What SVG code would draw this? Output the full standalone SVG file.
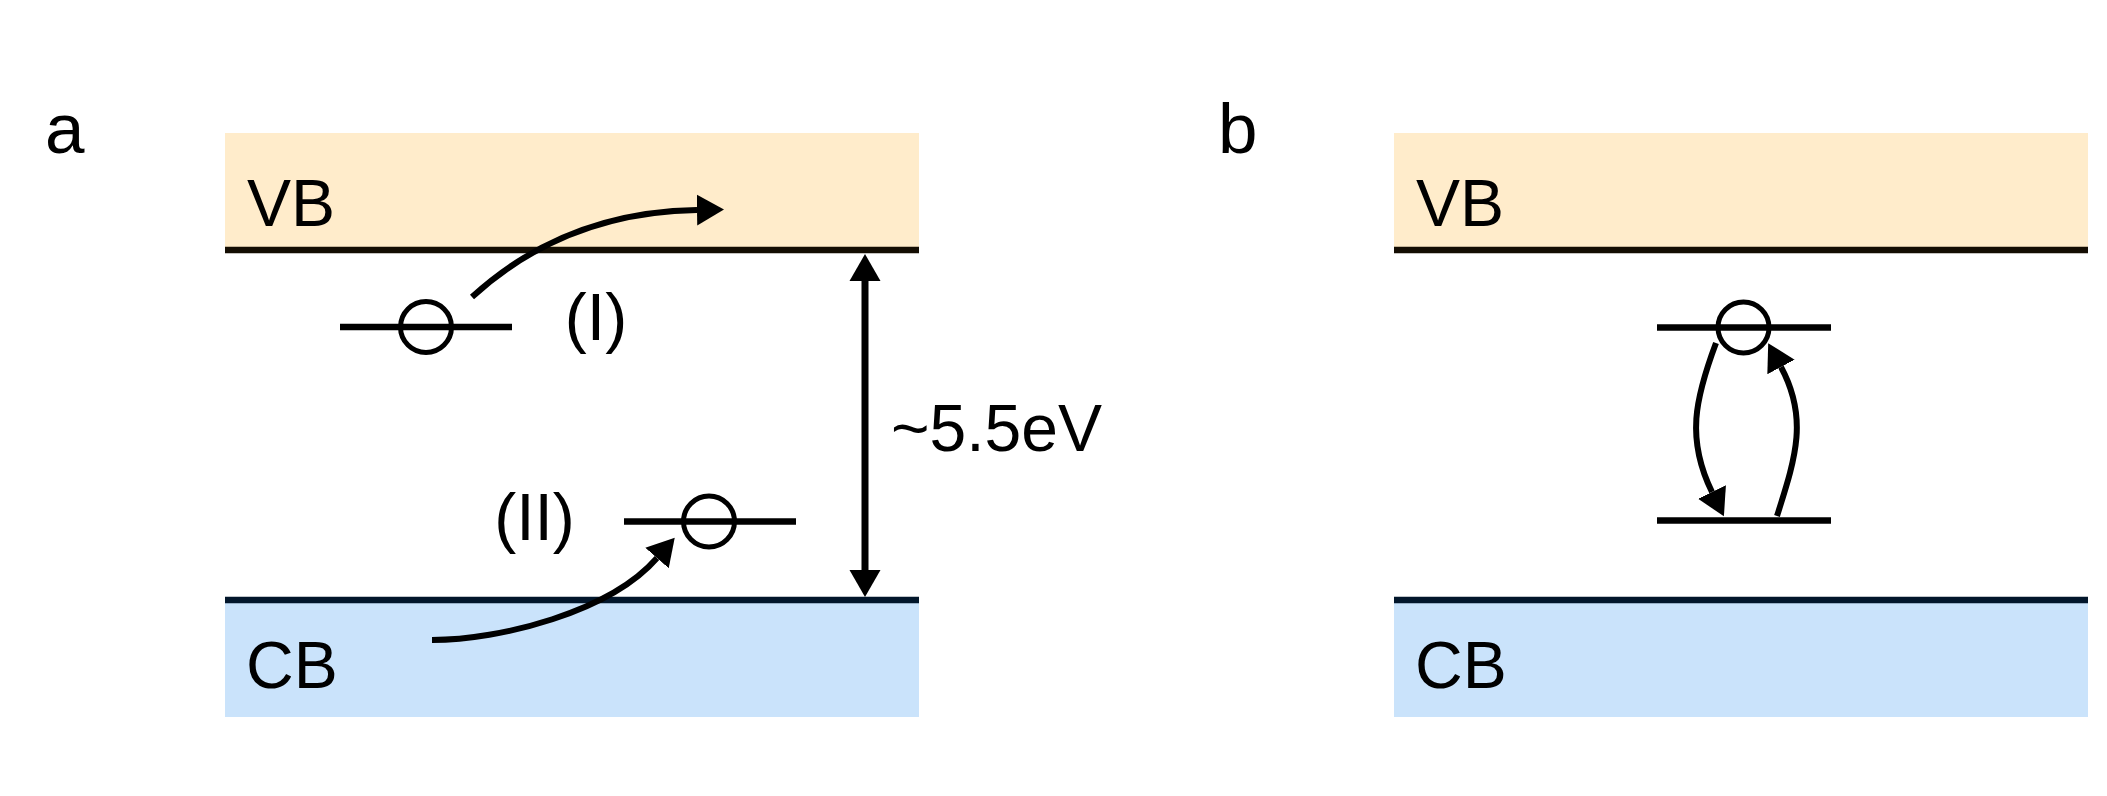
<svg xmlns="http://www.w3.org/2000/svg" width="2107" height="796" viewBox="0 0 2107 796">
<style>
text { font-family: "Liberation Sans", Arial, sans-serif; fill: #000; }
.lbl { font-size: 66px; }
.panel { font-size: 71px; }
.vb { fill: #FFECCB; }
.cb { fill: #CAE3FB; }
.vbline { stroke: #140d02; stroke-width: 6.5; }
.cbline { stroke: #02162b; stroke-width: 6.5; }
.level { stroke: #000; stroke-width: 6.5; }
.hole { fill: none; stroke: #000; stroke-width: 5; }
.conn { fill: none; stroke: #000; stroke-width: 6; }
.gap { fill: none; stroke: #000; stroke-width: 7; }
</style>
<defs>
<marker id="ah" markerUnits="userSpaceOnUse" markerWidth="30" markerHeight="34" viewBox="0 -17 30 34" refX="0" refY="0" orient="auto-start-reverse">
<path d="M0,-15.5 L27,0 L0,15.5 z" fill="#000"/>
</marker>
</defs>

<g id="panel-a">
  <text id="label-a" class="panel" x="45" y="153">a</text>
  <g id="a-vb">
    <rect class="vb" x="225" y="133" width="694" height="117"/>
    <line class="vbline" x1="225" y1="250" x2="919" y2="250"/>
    <text class="lbl" x="247" y="226">VB</text>
  </g>
  <g id="a-cb">
    <rect class="cb" x="225" y="600" width="694" height="117"/>
    <line class="cbline" x1="225" y1="600" x2="919" y2="600"/>
    <text class="lbl" x="246" y="688">CB</text>
  </g>
  <g id="a-level-I">
    <line class="level" x1="340" y1="327" x2="512" y2="327"/>
    <circle class="hole" cx="426" cy="327" r="25.5"/>
    <text class="lbl" x="596" y="340" text-anchor="middle">(I)</text>
  </g>
  <g id="a-level-II">
    <line class="level" x1="624" y1="521.5" x2="796" y2="521.5"/>
    <circle class="hole" cx="709" cy="521.5" r="25.5"/>
    <text class="lbl" x="534.5" y="540" text-anchor="middle">(II)</text>
  </g>
  <g id="a-gap-label">
    <text class="lbl" x="891" y="451">~5.5eV</text>
  </g>
</g>

<g id="panel-b">
  <text id="label-b" class="panel" x="1218" y="153">b</text>
  <g id="b-vb">
    <rect class="vb" x="1394" y="133" width="694" height="117"/>
    <line class="vbline" x1="1394" y1="250" x2="2088" y2="250"/>
    <text class="lbl" x="1416" y="226">VB</text>
  </g>
  <g id="b-cb">
    <rect class="cb" x="1394" y="600" width="694" height="117"/>
    <line class="cbline" x1="1394" y1="600" x2="2088" y2="600"/>
    <text class="lbl" x="1415" y="688">CB</text>
  </g>
  <g id="b-level-upper">
    <line class="level" x1="1657" y1="327.5" x2="1831" y2="327.5"/>
    <circle class="hole" cx="1743.5" cy="327.5" r="25.5"/>
  </g>
  <g id="b-level-lower">
    <line class="level" x1="1657" y1="520.5" x2="1831" y2="520.5"/>
  </g>
</g>

<g id="connectors">
  <path class="conn" d="M472,297 Q565,212 697,210" marker-end="url(#ah)"/>
  <path class="conn" d="M432,640 C500,640 610,612 657,558" marker-end="url(#ah)"/>
  <line class="gap" x1="865" y1="281" x2="865" y2="570" marker-start="url(#ah)" marker-end="url(#ah)"/>
  <path class="conn" d="M1716,343 C1695,399 1686,439 1712,492" marker-end="url(#ah)"/>
  <path class="conn" d="M1777,516 C1795,459 1809,419 1781,367" marker-end="url(#ah)"/>
</g>
</svg>
